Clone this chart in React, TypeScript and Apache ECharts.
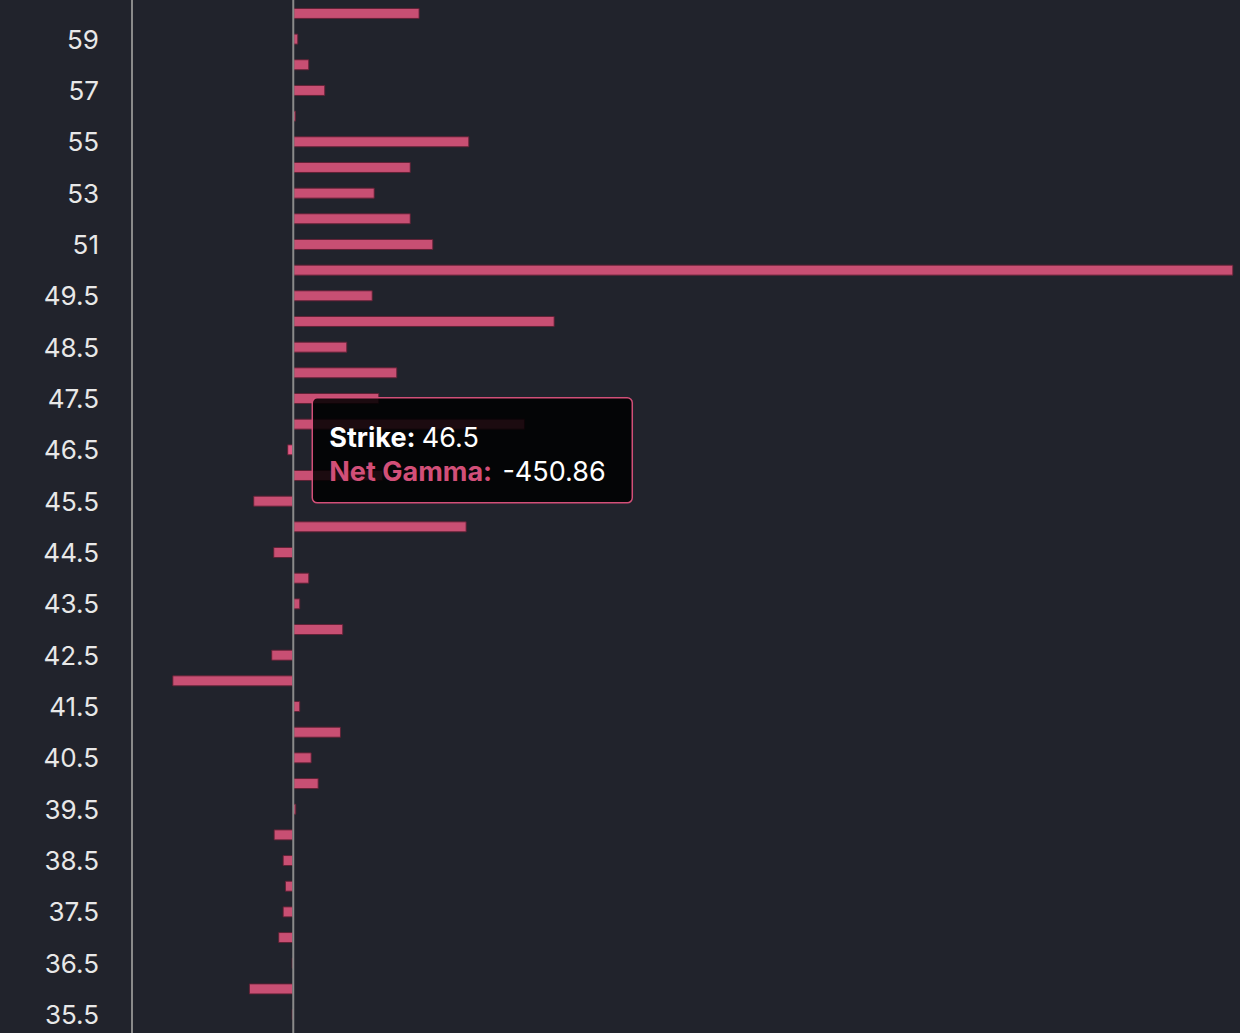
import React, { useEffect, useRef } from "react";
import * as echarts from "echarts";

const strikes: string[] = [
  "35.5", "36", "36.5", "37", "37.5", "38", "38.5", "39", "39.5", "40",
  "40.5", "41", "41.5", "42", "42.5", "43", "43.5", "44", "44.5", "45",
  "45.5", "46", "46.5", "47", "47.5", "48", "48.5", "49", "49.5", "50",
  "51", "52", "53", "54", "55", "56", "57", "58", "59", "60",
];

const netGamma: number[] = [
  -120, -3300, -120, -1120, -790, -620, -790, -1460, 220, 1890,
  1370, 3550, 520, -9000, -1640, 3720, 520, 1190, -1490, 12900,
  -2980, 6670, -450.86, 17240, 6400, 7740, 4020, 19450, 5910, 69950,
  10420, 8740, 6060, 8740, 13100, 200, 2380, 1190, 372, 9400,
];

const highlightedStrike = "46.5";
const xMin = -12000;
const xMax = 70000;

const BG = "#21232c";
const BAR = "#c84f73";
const BAR_HI = "#e25a86";
const PINK = "#d24f78";
const LINE = "#8a8a8a";
const H = 1033;

export default function App() {
  const ref = useRef<HTMLDivElement>(null);

  useEffect(() => {
    if (!ref.current) return;
    const chart = echarts.init(ref.current, undefined, { renderer: "svg" });
    const hiIdx = strikes.indexOf(highlightedStrike);

    chart.setOption({
      animation: false,
      backgroundColor: BG,
      grid: { left: 132, right: 6, top: 0.6, bottom: 5.6, containLabel: false },
      xAxis: {
        type: "value",
        min: xMin,
        max: xMax,
        show: false,
      },
      yAxis: {
        type: "category",
        data: strikes,
        axisLine: { show: false, onZero: false },
        axisTick: { show: false },
        axisLabel: {
          interval: 1,
          color: "#e8e8e8",
          fontSize: 26,
          fontFamily: "Inter",
          margin: 33,
        },
        splitLine: { show: false },
      },
      series: [
        {
          type: "bar",
          barWidth: 11,
          data: netGamma.map((v, i) =>
            i === hiIdx ? { value: v, itemStyle: { color: BAR_HI } } : v
          ),
          itemStyle: {
            color: BAR,
            borderColor: "rgba(95,32,52,0.9)",
            borderWidth: 1,
          },
        },
      ],
    });

    const p = chart.convertToPixel({ xAxisIndex: 0, yAxisIndex: 0 }, [0, hiIdx]) as number[];
    const pMin = chart.convertToPixel({ xAxisIndex: 0, yAxisIndex: 0 }, [xMin, hiIdx]) as number[];
    const bx = p[0] + 19;
    const by = p[1] - 52;
    const font = "Inter";
    chart.setOption({
      graphic: [
        {
          type: "line",
          z: 50,
          silent: true,
          shape: { x1: pMin[0], y1: 0, x2: pMin[0], y2: H },
          style: { stroke: LINE, lineWidth: 2 },
        },
        {
          type: "line",
          z: 50,
          silent: true,
          shape: { x1: p[0], y1: 0, x2: p[0], y2: H },
          style: { stroke: LINE, lineWidth: 2 },
        },
        {
          type: "group",
          z: 100,
          children: [
            {
              type: "rect",
              z: 100,
              shape: { x: bx, y: by, width: 320, height: 105, r: 5 },
              style: { fill: "rgba(0,0,0,0.86)", stroke: PINK, lineWidth: 1.5 },
            },
            {
              type: "text",
              z: 101,
              x: bx + 17,
              y: p[1] - 12,
              style: {
                text: `{b|Strike:} {v|${strikes[hiIdx]}}`,
                textVerticalAlign: "middle",
                rich: {
                  b: { fill: "#ffffff", fontWeight: "bold", fontSize: 27, fontFamily: font },
                  v: { fill: "#ffffff", fontSize: 27, fontFamily: font, padding: [0, 0, 0, 3] },
                },
              },
            },
            {
              type: "text",
              z: 101,
              x: bx + 17,
              y: p[1] + 22,
              style: {
                text: `{b|Net Gamma:} {v|${netGamma[hiIdx].toFixed(2)}}`,
                textVerticalAlign: "middle",
                rich: {
                  b: { fill: PINK, fontWeight: "bold", fontSize: 27, fontFamily: font },
                  v: { fill: "#ffffff", fontSize: 27, fontFamily: font, padding: [0, 0, 0, 7] },
                },
              },
            },
          ],
        },
      ],
    });

    return () => chart.dispose();
  }, []);

  return (
    <div
      ref={ref}
      style={{ position: "fixed", left: 0, top: 0, width: 1240, height: H, background: BG }}
    />
  );
}
